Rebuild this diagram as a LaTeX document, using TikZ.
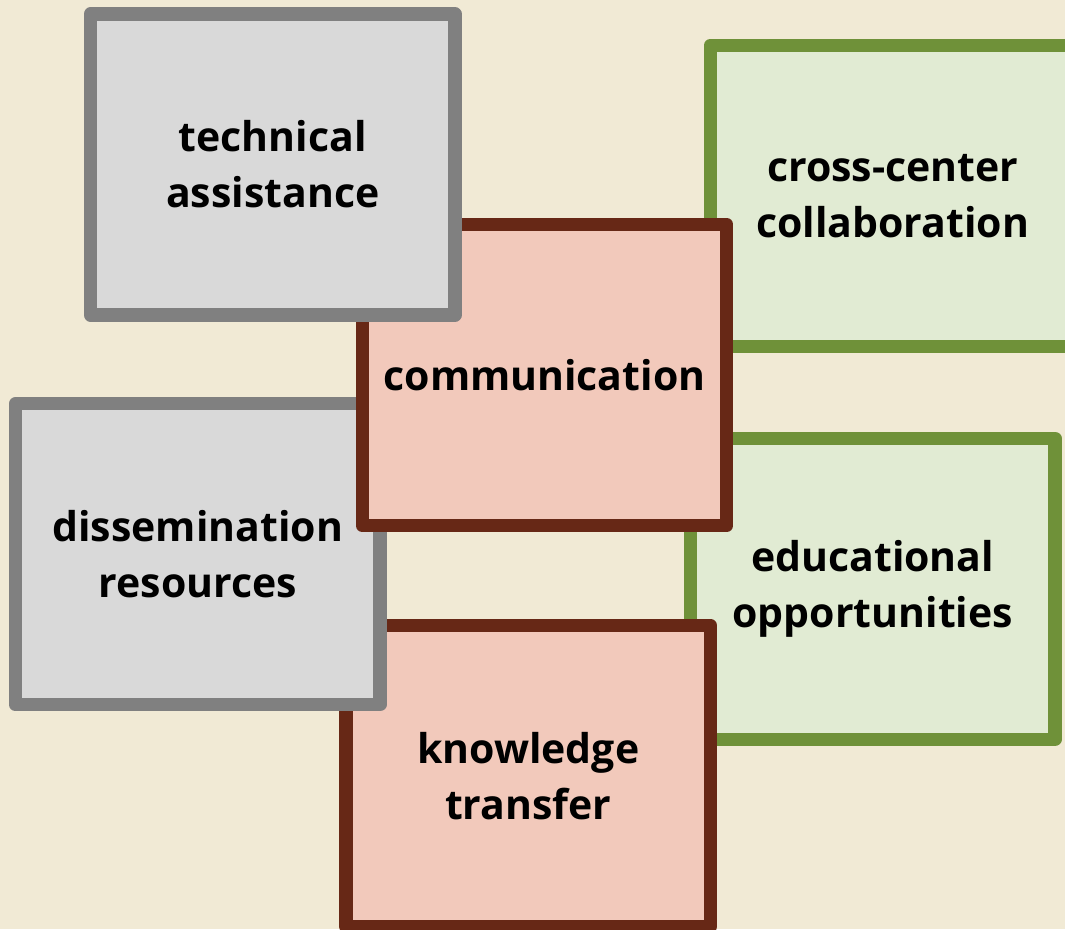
\documentclass[tikz,border=0pt]{standalone}
\usepackage{fontspec}
\setmainfont{Open Sans}[Ligatures=NoCommon]
\definecolor{bgc}{HTML}{F1EAD5}
\definecolor{grayfill}{HTML}{D9D9D9}
\definecolor{grayline}{HTML}{808080}
\definecolor{pinkfill}{HTML}{F2C9BB}
\definecolor{pinkline}{HTML}{672816}
\definecolor{greenfill}{HTML}{E1EBD3}
\definecolor{greenline}{HTML}{6F9139}
\tikzset{
  tile/.style={draw, line width=13.3pt, line join=round, rectangle, inner sep=0pt,
    minimum width=364.5pt, minimum height=301pt, align=center,
    font=\fontsize{41}{56}\selectfont\bfseries},
  graytile/.style={tile, fill=grayfill, draw=grayline},
  pinktile/.style={tile, fill=pinkfill, draw=pinkline},
  greentile/.style={tile, fill=greenfill, draw=greenline}
}
\begin{document}
\begin{tikzpicture}[x=1pt,y=-1pt]
\useasboundingbox (0,0) rectangle (1065,929);
\clip (0,0) rectangle (1065,929);
\fill[bgc] (0,0) rectangle (1065,929);
\node[greentile] (cross) at (892.75,195.75) {cross-center\\collaboration};
\node[greentile] (edu) at (872.75,588.75) {educational\\opportunities};
\node[pinktile] (know) at (528.25,776) {knowledge\\transfer};
\node[graytile] (diss) at (197.75,554.25) {dissemination\\resources};
\node[pinktile] (comm) at (544.5,375) {communication};
\node[graytile] (tech) at (272.75,164.5) {technical\\assistance};
\end{tikzpicture}
\end{document}
